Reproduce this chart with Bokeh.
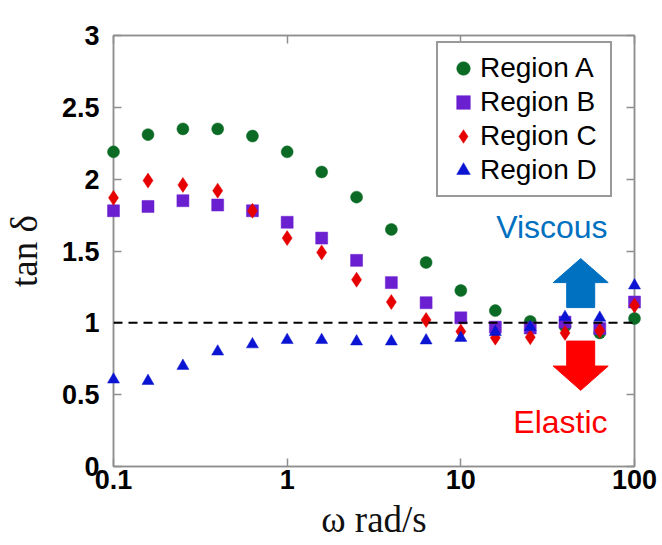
from bokeh.plotting import figure
from bokeh.models import (Range1d, FixedTicker, LinearAxis, LogAxis, Span, Label,
                          Legend, LegendItem, CustomJSTickFormatter, ColumnDataSource)
from bokeh.embed import file_html
from bokeh.resources import INLINE

# ---------------- data ----------------
omega = [0.1, 0.158, 0.251, 0.398, 0.631, 1.0, 1.58, 2.51, 3.98, 6.31,
         10.0, 15.8, 25.1, 39.8, 63.1, 100.0]
region_a = [2.19, 2.31, 2.35, 2.35, 2.30, 2.19, 2.05, 1.875, 1.65, 1.42,
            1.225, 1.085, 1.01, 0.976, 0.93, 1.03]
region_b = [1.78, 1.81, 1.85, 1.82, 1.78, 1.70, 1.59, 1.435, 1.28, 1.14,
            1.035, 0.97, 0.964, 1.005, 0.96, 1.145]
region_c = [1.87, 1.99, 1.96, 1.92, 1.78, 1.59, 1.49, 1.30, 1.145, 1.02,
            0.94, 0.897, 0.90, 0.93, 0.945, 1.12]
region_d = [0.605, 0.595, 0.70, 0.80, 0.85, 0.88, 0.88, 0.87, 0.87, 0.877,
            0.895, 0.936, 0.97, 1.04, 1.035, 1.26]

series_names = ["Region A", "Region B", "Region C", "Region D"]
series_colors = ["#0b6b24", "#6a1fd0", "#e60000", "#0a14d2"]
series_markers = ["circle", "square", "diamond", "triangle"]
series_sizes = [12, 12, 15, 12]

x_ticks = [0.1, 1, 10, 100]
x_tick_labels = ["0.1", "1", "10", "100"]
y_ticks = [0, 0.5, 1, 1.5, 2, 2.5, 3]
y_tick_labels = ["0", "0.5", "1", "1.5", "2", "2.5", "3"]

threshold = 1.0

# annotations
arrow_x = 49.0
arrow_up = dict(tail=1.106, base=1.28, tip=1.447, color="#0070c0")
arrow_down = dict(tail=0.873, base=0.699, tip=0.53, color="#ff0000")
shaft_factor = 1.204   # half shaft width as log-factor
head_factor = 1.44     # half head width as log-factor
text_x = 70.0
viscous_y = 1.664
elastic_y = 0.31

AXIS_GRAY = "#8f8f8f"

p = figure(width=662, height=545, x_axis_type="log",
           x_range=Range1d(0.1, 100), y_range=Range1d(0, 3),
           output_backend="svg", toolbar_location=None,
           min_border_left=112, min_border_right=28,
           min_border_top=35, min_border_bottom=79)
p.background_fill_color = "white"
p.border_fill_color = "white"
p.outline_line_color = AXIS_GRAY
p.outline_line_width = 1.5
p.xgrid.visible = False
p.ygrid.visible = False

# main axes
xa = p.xaxis[0]
xa.ticker = FixedTicker(ticks=x_ticks, minor_ticks=[])
xa.major_label_overrides = {t: l for t, l in zip(x_ticks, x_tick_labels)}
ya = p.yaxis[0]
ya.ticker = FixedTicker(ticks=y_ticks, minor_ticks=[])
ya.major_label_overrides = {t: l for t, l in zip(y_ticks, y_tick_labels)}

for ax in (xa, ya):
    ax.axis_line_color = AXIS_GRAY
    ax.axis_line_width = 1.5
    ax.major_tick_line_color = AXIS_GRAY
    ax.major_tick_line_width = 1.5
    ax.major_tick_in = 8
    ax.major_tick_out = 0
    ax.minor_tick_line_color = None
    ax.major_label_text_font = "Liberation Sans"
    ax.major_label_text_font_style = "bold"
    ax.major_label_text_font_size = "27px"
    ax.major_label_text_color = "black"
    ax.axis_label_text_font = "Liberation Serif"
    ax.axis_label_text_font_style = "normal"
    ax.axis_label_text_font_size = "37px"
    ax.axis_label_text_color = "#111111"

xa.axis_label = "ω rad/s"
xa.major_label_standoff = 3
xa.axis_label_standoff = 7
ya.axis_label = "tan δ"
ya.major_label_standoff = 14
ya.axis_label_standoff = 14

# mirrored axes (ticks only)
empty = CustomJSTickFormatter(code="return ''")
top_ax = LogAxis(ticker=FixedTicker(ticks=x_ticks, minor_ticks=[]), formatter=empty)
right_ax = LinearAxis(ticker=FixedTicker(ticks=y_ticks, minor_ticks=[]), formatter=empty)
for ax in (top_ax, right_ax):
    ax.axis_line_color = AXIS_GRAY
    ax.axis_line_width = 1.5
    ax.major_tick_line_color = AXIS_GRAY
    ax.major_tick_line_width = 1.5
    ax.major_tick_in = 8
    ax.major_tick_out = 0
    ax.minor_tick_line_color = None
    ax.major_label_standoff = 0
p.add_layout(top_ax, "above")
p.add_layout(right_ax, "right")

# threshold line
p.add_layout(Span(location=threshold, dimension="width", line_color="black",
                  line_width=2, line_dash="9 6"))

# arrows
for a in (arrow_up, arrow_down):
    xs = [arrow_x / shaft_factor, arrow_x * shaft_factor, arrow_x * shaft_factor,
          arrow_x * head_factor, arrow_x, arrow_x / head_factor, arrow_x / shaft_factor]
    ys = [a["tail"], a["tail"], a["base"], a["base"], a["tip"], a["base"], a["base"]]
    p.patch(xs, ys, fill_color=a["color"], line_color=a["color"], line_width=1)

p.add_layout(Label(x=text_x, y=viscous_y, text="Viscous", text_align="right",
                   text_baseline="middle", text_font="Liberation Sans",
                   text_font_size="32px", text_color="#0070c0"))
p.add_layout(Label(x=text_x, y=elastic_y, text="Elastic", text_align="right",
                   text_baseline="middle", text_font="Liberation Sans",
                   text_font_size="32px", text_color="#ff0000"))

# data
source = ColumnDataSource(dict(omega=omega, a=region_a, b=region_b,
                               c=region_c, d=region_d))
items = []
for name, col, color, marker, size in zip(series_names, ["a", "b", "c", "d"],
                                          series_colors, series_markers, series_sizes):
    r = p.scatter("omega", col, source=source, marker=marker, size=size,
                  fill_color=color, line_color=color, line_width=0.5,
                  level="annotation")
    items.append(LegendItem(label=name, renderers=[r]))

legend = Legend(items=items, location=(323, 269),
                glyph_width=34, glyph_height=34, spacing=0,
                label_standoff=0, label_width=122, label_height=30,
                padding=8, margin=0,
                label_text_font="Liberation Sans", label_text_font_size="28px",
                label_text_color="black",
                border_line_color="#333333", border_line_width=2,
                background_fill_color="white", background_fill_alpha=1)
p.add_layout(legend)

open("out.html", "w").write(file_html(p, INLINE))
